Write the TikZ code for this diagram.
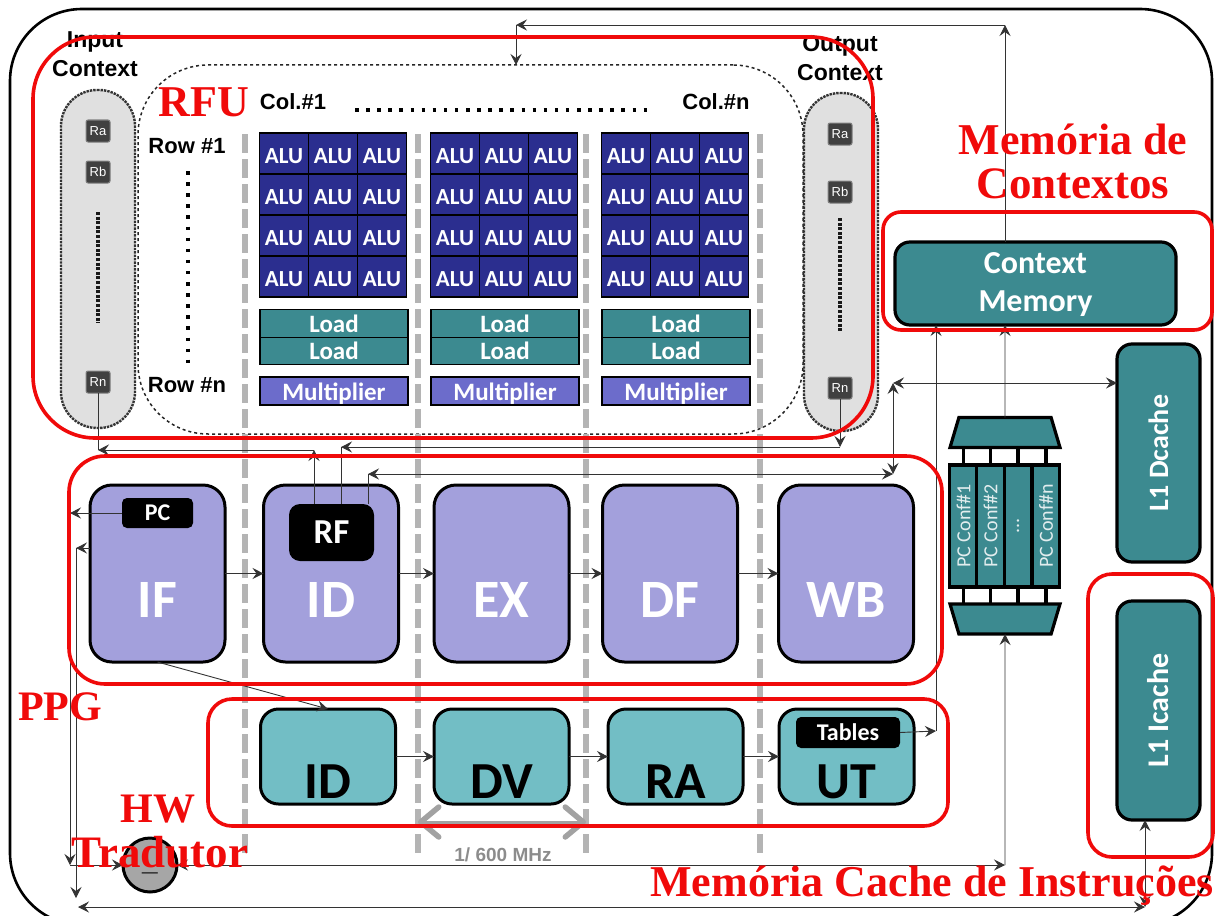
\documentclass[tikz,border=0pt]{standalone}
\usepackage{fontspec}
\setmainfont{Liberation Serif}
\newfontfamily\arialfont{Liberation Sans}
\newfontfamily\califont{Carlito}
\usetikzlibrary{calc,positioning,arrows.meta,shapes.geometric}
\definecolor{alublue}{HTML}{2B2E8F}
\definecolor{loadteal}{HTML}{3C8A90}
\definecolor{multblue}{HTML}{6C6CCB}
\definecolor{stagepurple}{HTML}{A3A0DC}
\definecolor{transteal}{HTML}{72BEC5}
\definecolor{ovalgray}{HTML}{E0E0E0}
\definecolor{clkgray}{HTML}{B4B4B4}
\definecolor{redline}{HTML}{F00A0A}
\newcommand{\fsz}[1]{\fontsize{#1}{#1}\selectfont}
\tikzset{
	box/.style={outer sep=0pt, inner sep=0pt, align=center},
	redframe/.style={box, draw=redline, line width=3.6pt},
	redtext/.style={box, text=redline, font=\bfseries\fsz{44}},
	headtext/.style={box, font=\arialfont\bfseries\fsz{22}},
	ctxtext/.style={box, font=\arialfont\bfseries\fsz{23}},
	oval/.style={box, draw=black!80, densely dotted, line width=2.4pt, fill=ovalgray, rounded corners=36pt, minimum width=74pt, minimum height=338pt},
	regbox/.style={box, draw=black!50, line width=1pt, fill=black!75, text=white, rounded corners=2pt, minimum width=24pt, minimum height=22pt, font=\arialfont\fsz{13}},
	alu/.style={box, draw=black, line width=1.4pt, fill=alublue, text=white, minimum width=49pt, minimum height=41pt, text height=19pt, text depth=0pt, font=\califont\bfseries\fsz{23}},
	loadbox/.style={box, draw=black, line width=1.2pt, fill=loadteal, text=white, minimum width=148pt, minimum height=27.5pt, font=\califont\bfseries\fsz{25}},
	multbox/.style={box, draw=black, line width=1.2pt, fill=multblue, text=white, minimum width=148pt, minimum height=28pt, text height=18pt, text depth=0pt, font=\califont\bfseries\fsz{25}},
	stage/.style={box, draw=black, line width=3pt, fill=stagepurple, rounded corners=22pt, minimum width=135pt, minimum height=177pt},
	stagetext/.style={box, text=white, font=\califont\bfseries\fsz{54}},
	trans/.style={box, draw=black, line width=3pt, fill=transteal, rounded corners=18pt, minimum width=135pt, minimum height=95pt},
	transtext/.style={box, text=black, font=\califont\bfseries\fsz{52}},
	blackbox/.style={box, fill=black, text=white, rounded corners=5pt, font=\califont\bfseries\fsz{24}},
	cache/.style={box, draw=black, line width=3.2pt, fill=loadteal, text=white, rounded corners=15pt, font=\califont\bfseries\fsz{29}},
	confcol/.style={box, draw=black, line width=3.4pt, fill=loadteal, text=white!85!loadteal, rotate=90, minimum width=122pt, minimum height=27.5pt, font=\califont\fsz{20}},
	muxbox/.style={box, draw=black, line width=3.2pt, fill=loadteal, trapezium, trapezium stretches=true, trapezium angle=84, minimum width=110pt, minimum height=30pt},
	stub/.style={draw=black, line width=3.4pt},
	conn/.style={draw=black!80, line width=0.9pt, >={Stealth[length=11pt,width=11pt,inset=4pt]}},
	clkline/.style={draw=clkgray, line width=5.5pt, dash pattern=on 19pt off 6pt},
	dotline/.style={draw=black, line width=3.5pt, dash pattern=on 3.5pt off 7.6pt},
	thickdots/.style={draw=black!90, line width=4pt, dash pattern=on 3pt off 1.6pt},
}

\begin{document}
\begin{tikzpicture}[x=1pt, y=-1pt]
	\useasboundingbox (0,0) rectangle (1230,915);
	\node [box, draw=black, line width=2.6pt, rounded corners=72pt, minimum width=1202pt, minimum height=916pt] (chip) at (611,467) {};

	\node [box, draw=black!85, dashed, line width=1.5pt, rounded corners=70pt, minimum width=665pt, minimum height=369pt] (fabric) at (470.5,249.5) {};
	\node [oval] (inctx)  at ( 98, 259) {};
	\node [oval] (outctx) at (841, 262) {};

	\foreach \clkx/\clkid in {245/a, 418/b, 586/c, 760/d}{
		\coordinate (clktop\clkid) at (\clkx, 134);
		\coordinate (clkbot\clkid) at (\clkx, 853);
		\draw [clkline] (clktop\clkid) -- (clkbot\clkid);
	}

	\node [ctxtext] (intxta)  at ( 95, 42) {Input};
	\node [ctxtext] (intxtb)  at ( 95, 69) {Context};
	\node [ctxtext] (outtxta) at (840, 46) {Output};
	\node [ctxtext] (outtxtb) at (840, 73) {Context};
	\node [headtext] (colfst)  at (293,102) {Col.\#1};
	\node [headtext] (collst)  at (716,102) {Col.\#n};
	\node [headtext] (rowfst)  at (187,146) {Row \#1};
	\node [headtext] (rowlst)  at (187,385) {Row \#n};

	\coordinate (coldota) at (355,110);
	\coordinate (coldotb) at (652,110);
	\coordinate (rowdota) at (188,171);
	\coordinate (rowdotb) at (188,369);
	\draw [dotline] (coldota) -- (coldotb);
	\draw [dotline] (rowdota) -- (rowdotb);

	\node [regbox] (inra)  at ( 98,131) {Ra};
	\node [regbox] (inrb)  at ( 98,172) {Rb};
	\node [regbox] (inrn)  at ( 98,382) {Rn};
	\node [regbox] (outra) at (840,134) {Ra};
	\node [regbox] (outrb) at (840,192) {Rb};
	\node [regbox] (outrn) at (840,388) {Rn};
	\coordinate (indota)  at ( 98,212);
	\coordinate (indotb)  at ( 98,323);
	\coordinate (outdota) at (840,218);
	\coordinate (outdotb) at (840,331);
	\draw [thickdots] (indota) -- (indotb);
	\draw [thickdots] (outdota) -- (outdotb);

	\foreach \gx/\gid in {260/a, 431/b, 602/c}{
		\foreach \row in {0,...,3}{
			\foreach \col in {0,1,2}{
				\node [alu] (alu\gid\row\col) at ({\gx+24+\col*49}, {153.5+\row*41}) {ALU};
			}
		}
		\node [loadbox] (loada\gid) at ({\gx+74}, 323.5) {Load};
		\node [loadbox] (loadb\gid) at ({\gx+74}, 351) {Load};
		\node [multbox] (mult\gid)  at ({\gx+74}, 391) {Multiplier};
	}

	\node [stage] (stif) at (157.5,573.5) {};
	\node [stage] (stid) at (331,  573.5) {};
	\node [stage] (stex) at (501.5,573.5) {};
	\node [stage] (stdf) at (670,  573.5) {};
	\node [stage] (stwb) at (846,  573.5) {};
	\node [stagetext] (txif) at (157.5,600) {IF};
	\node [stagetext] (txid) at (331,  600) {ID};
	\node [stagetext] (txex) at (501.5,600) {EX};
	\node [stagetext] (txdf) at (670,  600) {DF};
	\node [stagetext] (txwb) at (846,  600) {WB};
	\node [blackbox, minimum width=71pt, minimum height=30pt] (pcreg) at (157.5,513) {PC};
	\node [blackbox, minimum width=85pt, minimum height=57pt, rounded corners=11pt, font=\califont\bfseries\fsz{35}] (rfreg) at (331.5,532.5) {RF};

	\node [trans] (trid) at (328,  756.5) {};
	\node [trans] (trdv) at (501.5,756.5) {};
	\node [trans] (trra) at (675.5,756.5) {};
	\node [trans] (trut) at (846.5,756.5) {};
	\node [transtext] (txtrid) at (328,  782) {ID};
	\node [transtext] (txtrdv) at (501.5,782) {DV};
	\node [transtext] (txtrra) at (675.5,782) {RA};
	\node [transtext] (txtrut) at (846.5,782) {UT};
	\node [blackbox, minimum width=104pt, minimum height=31pt, font=\califont\bfseries\fsz{24}] (tables) at (848,732.5) {Tables};

	\node [cache, minimum width=281pt, minimum height=83pt] (ctxmem) at (1035.5,283.5) {};
	\node [box, text=white, font=\califont\bfseries\fsz{32}] (ctxtxt) at (1035.5,285) {Context\\[6pt]Memory};
	\node [cache, rotate=90, minimum width=218pt, minimum height=83pt, font=\califont\bfseries\fsz{28}] (dcache) at (1158.5,453) {L1 Dcache};
	\node [cache, rotate=90, minimum width=219pt, minimum height=83pt, font=\califont\bfseries\fsz{30}] (icache) at (1158.5,710.5) {L1 Icache};

	\node [muxbox] (muxtop) at (1005,432.5) {\phantom{x}};
	\node [muxbox, shape border rotate=180] (muxbot) at (1005,619) {\phantom{x}};
	\node [confcol] (confa) at ( 963.5,526) {PC Conf\#1};
	\node [confcol] (confb) at ( 990.5,526) {PC Conf\#2};
	\node [confcol] (confc) at (1018,  526) {...};
	\node [confcol] (confd) at (1046,  526) {PC Conf\#n};
	\foreach \cid in {a,b,c,d}{
		\draw [stub] (conf\cid.east) -- (conf\cid.east |- muxtop.south);
		\draw [stub] (conf\cid.west) -- (conf\cid.west |- muxbot.north);
	}

	\node [box, circle, draw=black, line width=3pt, fill=black!35, minimum size=54pt, text height=12pt, text depth=2pt, font=\arialfont\bfseries\fsz{28}] (hwsum) at (150,865) {\_};

	\coordinate (topl) at ( 516, 25);
	\coordinate (topr) at (1005, 25);
	\coordinate (rfa)  at ( 314,450);
	\coordinate (rfb)  at ( 341,447);
	\coordinate (rfc)  at ( 368,474);
	\coordinate (wbc)  at ( 893,474);
	\coordinate (dcj)  at ( 893,383);
	\coordinate (pcl)  at (  70,513);
	\coordinate (hwl)  at (  70,865);
	\coordinate (hwr)  at (1005,865);
	\coordinate (fbk)  at (  76,548);
	\coordinate (fbkd) at (  76,898);
	\coordinate (botl) at (  78,907);
	\coordinate (botr) at (1145,907);
	\coordinate (tabr) at ( 936,731);

	\draw [conn, ->] (ctxmem.north -| muxtop) -- (topr);
	\draw [conn, ->] (topr) -- (topl);
	\draw [conn, ->] (topl) -- (fabric.north -| topl);
	\draw [conn, ->] (muxtop.north) -- (ctxmem.south -| muxtop);
	\draw [conn] (inrn.south) -- (inrn |- rfa);
	\draw [conn, ->] (rfa) -- (inrn |- rfa);
	\draw [conn, ->] (rfreg.north -| rfa) -- (rfa);
	\draw [conn, ->] (outrn.south) -- (outrn |- rfb);
	\draw [conn, ->] (outrn |- rfb) -- (rfb);
	\draw [conn] (rfreg.north -| rfb) -- (rfb);
	\draw [conn] (rfreg.north -| rfc) -- (rfc);
	\draw [conn, <->] (rfc) -- (wbc);
	\draw [conn, <->] (wbc) -- (dcj);
	\draw [conn, <->] (dcj) -- (dcache.north |- dcj);
	\draw [conn, ->] (stif) -- (stid);
	\draw [conn, ->] (stid) -- (stex);
	\draw [conn, ->] (stex) -- (stdf);
	\draw [conn, ->] (stdf) -- (stwb);
	\draw [conn, ->] (trid) -- (trdv);
	\draw [conn, ->] (trdv) -- (trra);
	\draw [conn, ->] (trra) -- (trut);
	\draw [conn, ->] (stif.south) -- (trid.north);
	\draw [conn, ->] (pcreg) -- (pcl);
	\draw [conn, ->] (pcl) -- (hwl);
	\draw [conn, ->] (hwl) -- (hwsum);
	\draw [conn, <->] (hwsum) -- (hwr);
	\draw [conn, ->] (hwr) -- (muxbot.south);
	\draw [conn, ->] (stif.west |- fbk) -- (fbk);
	\draw [conn, ->] (fbk) -- (fbkd);
	\draw [conn, <->] (botl) -- (botr);
	\draw [conn, <->] (icache.west -| botr) -- (botr);
	\draw [conn, ->] (tables.east) -- (tabr);
	\draw [conn, ->] (tabr) -- (ctxmem.south -| tabr);

	\coordinate (clkl) at (418,822);
	\coordinate (clkr) at (586,822);
	\draw [draw=clkgray!90!black, line width=3pt, arrows={Straight Barb[length=18pt,width=30pt,line width=5.5pt,round]-Straight Barb[length=18pt,width=30pt,line width=5.5pt,round]}] (clkl) -- (clkr);
	\node [box, text=black!45, font=\arialfont\bfseries\fsz{19}] (clktxt) at (503,855) {1/ 600 MHz};

	\node [redframe, rounded corners=62pt, minimum width=840pt, minimum height=401pt] (rfubox) at (453,237.5) {};
	\node [redframe, rounded corners=36pt, minimum width=873pt, minimum height=228pt] (ppgbox) at (505.5,570) {};
	\node [redframe, rounded corners=24pt, minimum width=740pt, minimum height=127pt] (hwbox)  at (578,762.5) {};
	\node [redframe, rounded corners=18pt, minimum width=329pt, minimum height=118pt] (ctxbox) at (1047.5,271) {};
	\node [redframe, rounded corners=24pt, minimum width=125pt, minimum height=283pt] (icbox)  at (1150.5,715.5) {};

	\node [redtext] (rfutxt)  at ( 204,102) {RFU};
	\node [redtext] (memtxta) at (1073,139) {Memória de};
	\node [redtext, font=\bfseries\fsz{45}] (memtxtb) at (1073,184) {Contextos};
	\node [redtext, font=\bfseries\fsz{42}] (ppgtxt)  at (  60,707) {PPG};
	\node [redtext, font=\bfseries\fsz{42}] (hwtxt)   at ( 158,809) {HW};
	\node [redtext, font=\bfseries\fsz{45}] (tradtxt) at ( 160,852) {Tradutor};
	\node [redtext] (cachetxt) at (932,886) {Memória Cache de Instruções};
\end{tikzpicture}
\end{document}
